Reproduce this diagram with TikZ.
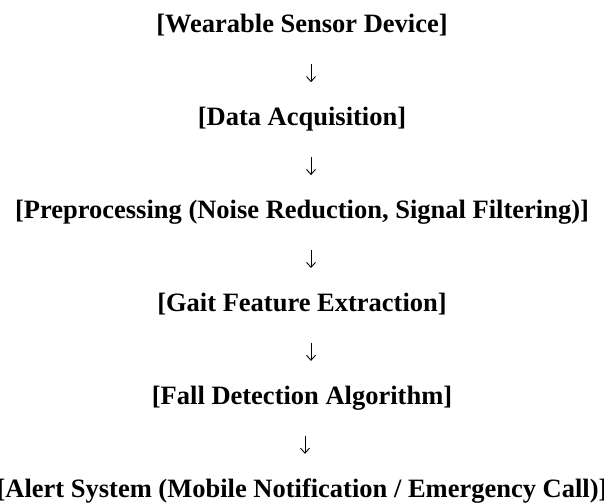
\documentclass[tikz,border=0pt]{standalone}
\usepackage{fontspec}
\setmainfont{Liberation Serif}
\usepackage{tikz}
\usetikzlibrary{positioning}
\usetikzlibrary{arrows.meta}

\begin{document}
\begin{tikzpicture}[x=1pt,y=1pt,node distance=68.5pt,>={Straight Barb[length=5pt,width=9pt]},
    stage/.style={inner sep=0pt,text height=18pt,text depth=6pt,font=\fontsize{26.5}{30}\selectfont\bfseries},
    flow/.style={->,line width=0.9pt,shorten <=25pt,shorten >=25.5pt}]
  \useasboundingbox (0,0) rectangle (604,503);
  \node[stage,anchor=base] (sensor) at (302,470)          {[Wearable Sensor Device]};
  \node[stage] (acquisition) [below=of sensor]            {[Data Acquisition]};
  \node[stage] (preprocessing) [below=of acquisition]     {[Preprocessing (Noise Reduction, Signal Filtering)]};
  \node[stage] (features) [below=of preprocessing]        {[Gait Feature Extraction]};
  \node[stage] (detection) [below=of features]            {[Fall Detection Algorithm]};
  \node[stage] (alert) [below=of detection]               {[Alert System (Mobile Notification / Emergency Call)]};
  %
  \draw[flow] ([xshift=9pt]sensor.south) -- ([xshift=9pt]acquisition.north);
  \draw[flow] ([xshift=9pt]acquisition.south) -- ([xshift=9pt]preprocessing.north);
  \draw[flow] ([xshift=9pt]preprocessing.south) -- ([xshift=9pt]features.north);
  \draw[flow] ([xshift=9pt]features.south) -- ([xshift=9pt]detection.north);
  \draw[flow] ([xshift=3pt]detection.south) -- ([xshift=3pt]alert.north);
\end{tikzpicture}
\end{document}
